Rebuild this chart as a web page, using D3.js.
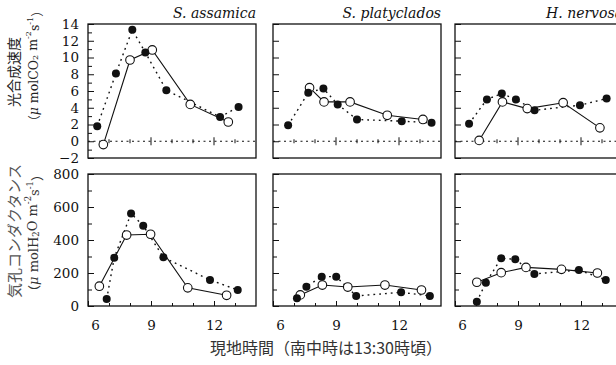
<!DOCTYPE html>
<html>
<head>
<meta charset="utf-8">
<script src="https://cdn.jsdelivr.net/npm/d3@7"></script>
<style>
  body { margin: 0; background: #fff; }
  svg { display: block; }
  .tick text { font-family: "DejaVu Serif", serif; font-size: 13.5px; fill: #111; }
</style>
</head>
<body>
<svg></svg>
<script>
// Species (one column of panels each)
const species = ['S. assamica', 'S. platyclados', 'H. nervosa'];

// Photosynthetic rate, [local time, value]; open = solid line, filled = dotted line
const photoOpen = [
  [[6.73, -0.4], [8.0, 9.7], [9.06, 10.9], [10.87, 4.4], [12.68, 2.3]],
  [[7.74, 6.4], [8.43, 4.7], [9.67, 4.7], [11.44, 3.1], [13.14, 2.6]],
  [[7.15, 0.1], [8.26, 4.7], [9.44, 3.9], [11.15, 4.6], [12.9, 1.6]]
];
const photoFilled = [
  [[6.44, 1.8], [7.33, 8.1], [8.11, 13.3], [8.73, 10.6], [9.73, 6.1], [12.29, 2.9], [13.17, 4.1]],
  [[6.72, 1.9], [7.68, 5.8], [8.4, 6.3], [9.08, 4.4], [10.0, 2.6], [12.13, 2.4], [13.55, 2.2]],
  [[6.67, 2.1], [7.52, 5.0], [8.23, 5.7], [8.9, 5.0], [9.79, 3.7], [11.95, 4.3], [13.22, 5.1]]
];

// Stomatal conductance, [local time, value]
const condOpen = [
  [[6.54, 120], [7.84, 430], [8.98, 435], [10.75, 110], [12.6, 65]],
  [[7.3, 67], [8.35, 127], [9.56, 115], [11.33, 127], [13.07, 97]],
  [[7.04, 144], [8.2, 202], [9.38, 234], [11.07, 222], [12.78, 200]]
];
const condFilled = [
  [[6.89, 42], [7.25, 293], [8.05, 560], [8.63, 487], [9.59, 295], [11.81, 158], [13.13, 97]],
  [[7.14, 47], [7.59, 117], [8.32, 178], [9.01, 178], [9.96, 61], [12.1, 83], [13.47, 61]],
  [[7.04, 26], [7.47, 141], [8.2, 289], [8.87, 283], [9.78, 194], [11.9, 218], [13.18, 158]]
];

// Axis ticks
const timeDomain = [6, 14];
const timeLabels = [6, 9, 12];
const timeMinor = [7, 8, 10, 11, 13];
const photoDomain = [-2, 14];
const photoMajor = [-2, 0, 2, 4, 6, 8, 10, 12, 14];
const photoMinor = [-1, 1, 3, 5, 7, 9, 11, 13];
const condDomain = [0, 800];
const condMajor = [0, 200, 400, 600, 800];
const condMinor = [100, 300, 500, 700];

const width = 616, height = 365;
const panelLeft = [88, 273, 455];
const panelW = 168;
const rows = [
  { top: 24, h: 134, domain: photoDomain, major: photoMajor, minor: photoMinor, open: photoOpen, filled: photoFilled, zero: true },
  { top: 174, h: 132, domain: condDomain, major: condMajor, minor: condMinor, open: condOpen, filled: condFilled, zero: false }
];

const svg = d3.select('svg')
  .attr('width', width)
  .attr('height', height);

const x = d3.scaleLinear().domain(timeDomain).range([0, panelW]);

rows.forEach(function (row, ri) {
  const y = d3.scaleLinear().domain(row.domain).range([row.h, 0]);
  const line = d3.line().x(d => x(d[0])).y(d => y(d[1]));

  species.forEach(function (name, si) {
    const g = svg.append('g')
      .attr('transform', `translate(${panelLeft[si]},${row.top})`);

    // minor y ticks (top row: only first panel has them)
    if (ri === 1 || si === 0) {
      g.append('g')
        .call(d3.axisLeft(y).tickValues(row.minor).tickSize(-4).tickFormat(''))
        .call(a => a.select('.domain').remove())
        .selectAll('line').attr('stroke', '#111');
    }
    // major y ticks, labels on first column
    g.append('g')
      .call(d3.axisLeft(y).tickValues(row.major).tickSize(-6).tickPadding(9)
        .tickFormat(si === 0 ? d3.format('d') : ''))
      .call(a => a.select('.domain').remove())
      .selectAll('line').attr('stroke', '#111');

    if (row.zero) {
      // dotted zero line with hour ticks
      g.append('line')
        .attr('x1', 0).attr('x2', panelW)
        .attr('y1', y(0)).attr('y2', y(0))
        .attr('stroke', '#111').attr('stroke-width', 1.2)
        .attr('stroke-dasharray', '2,3.5');
      g.selectAll('line.zminor').data(timeMinor).join('line')
        .attr('class', 'zminor')
        .attr('x1', d => x(d)).attr('x2', d => x(d))
        .attr('y1', y(0) - 2).attr('y2', y(0) + 2)
        .attr('stroke', '#111');
      g.selectAll('line.zmajor').data([9, 12]).join('line')
        .attr('class', 'zmajor')
        .attr('x1', d => x(d)).attr('x2', d => x(d))
        .attr('y1', y(0) - 4).attr('y2', y(0) + 4)
        .attr('stroke', '#111');
    } else {
      // bottom time axis
      g.append('g')
        .attr('transform', `translate(0,${row.h})`)
        .call(d3.axisBottom(x).tickValues(timeMinor).tickSize(-3).tickFormat(''))
        .call(a => a.select('.domain').remove())
        .selectAll('line').attr('stroke', '#111');
      const ax = g.append('g')
        .attr('transform', `translate(0,${row.h})`)
        .call(d3.axisBottom(x).tickValues(timeLabels).tickSize(-5).tickPadding(14))
        .call(a => a.select('.domain').remove());
      ax.selectAll('line').attr('stroke', '#111');
      // keep the "6" label off the frame edge
      ax.selectAll('.tick').filter(d => d === 6).select('text').attr('x', 7);
    }

    // frame
    g.append('rect')
      .attr('width', panelW).attr('height', row.h)
      .attr('fill', 'none').attr('stroke', '#111').attr('stroke-width', 1.3);

    // dotted series (filled circles)
    g.append('path')
      .datum(row.filled[si])
      .attr('d', line)
      .attr('fill', 'none').attr('stroke', '#111')
      .attr('stroke-width', 1.4).attr('stroke-dasharray', '1.8,4');
    // solid series (open circles)
    g.append('path')
      .datum(row.open[si])
      .attr('d', line)
      .attr('fill', 'none').attr('stroke', '#111').attr('stroke-width', 1.1);

    g.selectAll('circle.open').data(row.open[si]).join('circle')
      .attr('class', 'open')
      .attr('cx', d => x(d[0])).attr('cy', d => y(d[1])).attr('r', 4.3)
      .attr('fill', '#fff').attr('stroke', '#111').attr('stroke-width', 1.1);
    g.selectAll('circle.filled').data(row.filled[si]).join('circle')
      .attr('class', 'filled')
      .attr('cx', d => x(d[0])).attr('cy', d => y(d[1])).attr('r', 4)
      .attr('fill', '#111');

    if (ri === 0) {
      svg.append('text')
        .attr('x', panelLeft[si] + panelW).attr('y', 18)
        .attr('text-anchor', 'end')
        .style('font-family', '"DejaVu Serif", serif')
        .style('font-style', 'italic')
        .style('font-size', '14px')
        .attr('fill', '#111')
        .text(name);
    }
  });
});

// y axis titles
function yTitle(cx, cy, size, color, build) {
  const t = svg.append('text')
    .attr('transform', `translate(${cx},${cy}) rotate(-90)`)
    .attr('text-anchor', 'middle')
    .attr('dominant-baseline', 'central')
    .style('font-family', '"Noto Sans CJK JP", "DejaVu Serif", serif')
    .style('font-size', size + 'px')
    .attr('fill', color);
  build(t);
}
function unitText(t, gasA, sub, gasB) {
  const serif = '"DejaVu Serif", serif';
  t.append('tspan').text('（');
  t.append('tspan').style('font-style', 'italic').style('font-family', serif).text('μ');
  t.append('tspan').style('font-family', serif).text(' mol' + gasA);
  t.append('tspan').style('font-family', serif).attr('font-size', '0.65em').attr('dy', '0.3em').text(sub);
  t.append('tspan').style('font-family', serif).attr('dy', '-0.3em').text(gasB + ' m');
  t.append('tspan').style('font-family', serif).attr('font-size', '0.65em').attr('dy', '-0.45em').text('-2');
  t.append('tspan').style('font-family', serif).attr('dy', '0.45em').text('s');
  t.append('tspan').style('font-family', serif).attr('font-size', '0.65em').attr('dy', '-0.45em').text('-1');
  t.append('tspan').attr('dy', '0.45em').text('）');
}
yTitle(13, 72, 14, '#222', t => t.text('光合成速度'));
yTitle(33, 66, 12.5, '#222', t => unitText(t, 'CO', '2', ''));
yTitle(13, 231, 15, '#555', t => t.text('気孔コンダクタンス'));
yTitle(33, 233, 13, '#333', t => unitText(t, 'H', '2', 'O'));

// x axis title
svg.append('text')
  .attr('x', 326).attr('y', 354)
  .attr('text-anchor', 'middle')
  .style('font-family', '"Noto Sans CJK JP", sans-serif')
  .style('font-size', '16px')
  .attr('fill', '#333')
  .text('現地時間（南中時は13:30時頃）');
</script>
</body>
</html>
